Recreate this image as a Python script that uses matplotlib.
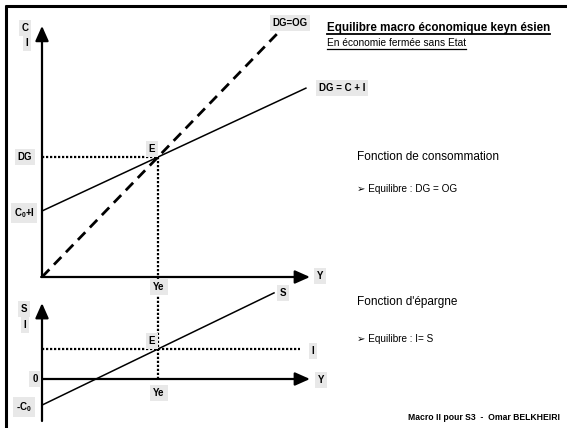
import numpy as np
import matplotlib
matplotlib.use('Agg')
import matplotlib.pyplot as plt

plt.rcParams['font.family'] = ['Liberation Sans', 'DejaVu Sans']
plt.rcParams['mathtext.fontset'] = 'custom'
plt.rcParams['mathtext.rm'] = 'Liberation Sans:bold'
plt.rcParams['mathtext.default'] = 'rm'

# model values (arbitrary units)
c0_plus_i = 2.2      # C0 + I
c = 0.45             # propension marginale a consommer
Ye = 4.0             # revenu d'equilibre
Y_dg = np.array([0.0, 9.1])
Y_og = np.array([0.0, 8.3])
dg = c0_plus_i + c * Y_dg
og = Y_og

I_val = 1.0
c0 = 0.87
s = (I_val + c0) / Ye
Y_s = np.array([0.0, 8.0])
S = -c0 + s * Y_s

W, H = 567, 428
fig = plt.figure(figsize=(W / 100, H / 100), dpi=100)

# chart axes; mapping x_px = 42 + 29*x, y_px = y0 - 30*y
def chart_axes(y0):
    ax = fig.add_axes([0, 0, 1, 1], facecolor='none')
    ax.set_xlim(-42 / 29, (W - 42) / 29)
    ax.set_ylim(-(H - y0) / 30, y0 / 30)
    ax.axis('off')
    return ax

top = chart_axes(277)
bot = chart_axes(379)

# overlay in pixel coords, drawn above the charts
ov = fig.add_axes([0, 0, 1, 1], facecolor='none')
ov.set_xlim(0, W)
ov.set_ylim(H, 0)
ov.axis('off')
ov.set_zorder(3)

arrow = dict(arrowstyle='-|>,head_length=0.9,head_width=0.4', lw=1.6, color='k',
             shrinkA=0, shrinkB=0, mutation_scale=10)
dots = (0, (1, 0.8))

# frame (top and left only visible)
ov.plot([5, W], [6, 6], color='k', lw=2.2, solid_capstyle='butt')
ov.plot([5.5, 5.5], [5, H], color='k', lw=2.2, solid_capstyle='butt')

# --- top chart ---
top.annotate('', xy=(0, 8.37), xytext=(0, 0), arrowprops=arrow)
top.annotate('', xy=(9.24, 0), xytext=(-0.03, 0), arrowprops=arrow)
top.plot(Y_og, og, color='k', lw=2.0, ls=(0, (3.8, 2.4)), clip_on=False)
top.plot(Y_dg, dg, color='k', lw=1.1, clip_on=False)
top.plot([0, Ye], [c0_plus_i + c * Ye] * 2, color='k', lw=1.6, ls=dots, clip_on=False)
top.plot([Ye, Ye], [c0_plus_i + c * Ye, 0], color='k', lw=1.6, ls=dots, clip_on=False)

# --- bottom chart ---
bot.annotate('', xy=(0, 2.53), xytext=(0, -1.4), arrowprops=arrow)
bot.annotate('', xy=(9.24, 0), xytext=(0, 0), arrowprops=arrow)
bot.plot([0, 8.9], [I_val, I_val], color='k', lw=1.6, ls=dots, clip_on=False)
bot.plot([Ye, Ye], [0, 3.4], color='k', lw=1.6, ls=dots, clip_on=False)
bot.plot(Y_s, S, color='k', lw=1.1, clip_on=False)

# gray label boxes
box = dict(boxstyle='square,pad=0.3', fc='#e8e8e8', ec='none')
labels = [
    ('C', 25, 28), ('I', 27, 43), ('DG', 25, 157), ('C$_0$+I', 24, 213),
    ('E', 152, 149), ('Ye', 159, 287), ('Y', 320, 276),
    ('DG = C + I', 342, 88), ('DG=OG', 290, 23),
    ('S', 283, 293), ('S', 24, 309), ('I', 25, 325), ('E', 152, 341),
    ('0', 35, 379), ('-C$_0$', 24, 407), ('Ye', 159, 393),
    ('I', 313, 351), ('Y', 321, 380),
]
for txt, x, y in labels:
    ov.text(x, y, txt, fontsize=7, fontweight='bold', ha='center', va='center',
            bbox=box, zorder=5)

# titles with underline
t1 = ov.text(327, 28, 'Equilibre macro économique keyn ésien', fontsize=8.4,
             fontweight='bold', ha='left', va='center')
t2 = ov.text(327, 43, 'En économie fermée sans Etat', fontsize=7.3,
             ha='left', va='center')
fig.canvas.draw()
inv = ov.transData.inverted()
for t, yline, lw in [(t1, 34, 1.3), (t2, 48.5, 0.9)]:
    bb = t.get_window_extent()
    (x0, _), (x1, _) = inv.transform([(bb.x0, bb.y0), (bb.x1, bb.y1)])
    ov.plot([x0, x1], [yline, yline], color='k', lw=lw)

ov.text(357, 157, 'Fonction de consommation', fontsize=8.5, ha='left', va='center')
ov.text(357, 189, '➢ Equilibre : DG = OG', fontsize=7.2, ha='left', va='center')
ov.text(357, 302, 'Fonction d\'épargne', fontsize=8.5, ha='left', va='center')
ov.text(357, 339, '➢ Equilibre : I= S', fontsize=7.2, ha='left', va='center')
ov.text(560, 418, 'Macro II pour S3  -  Omar BELKHEIRI', fontsize=6.2,
        fontweight='bold', ha='right', va='center')

fig.savefig('out.png', dpi=100)
